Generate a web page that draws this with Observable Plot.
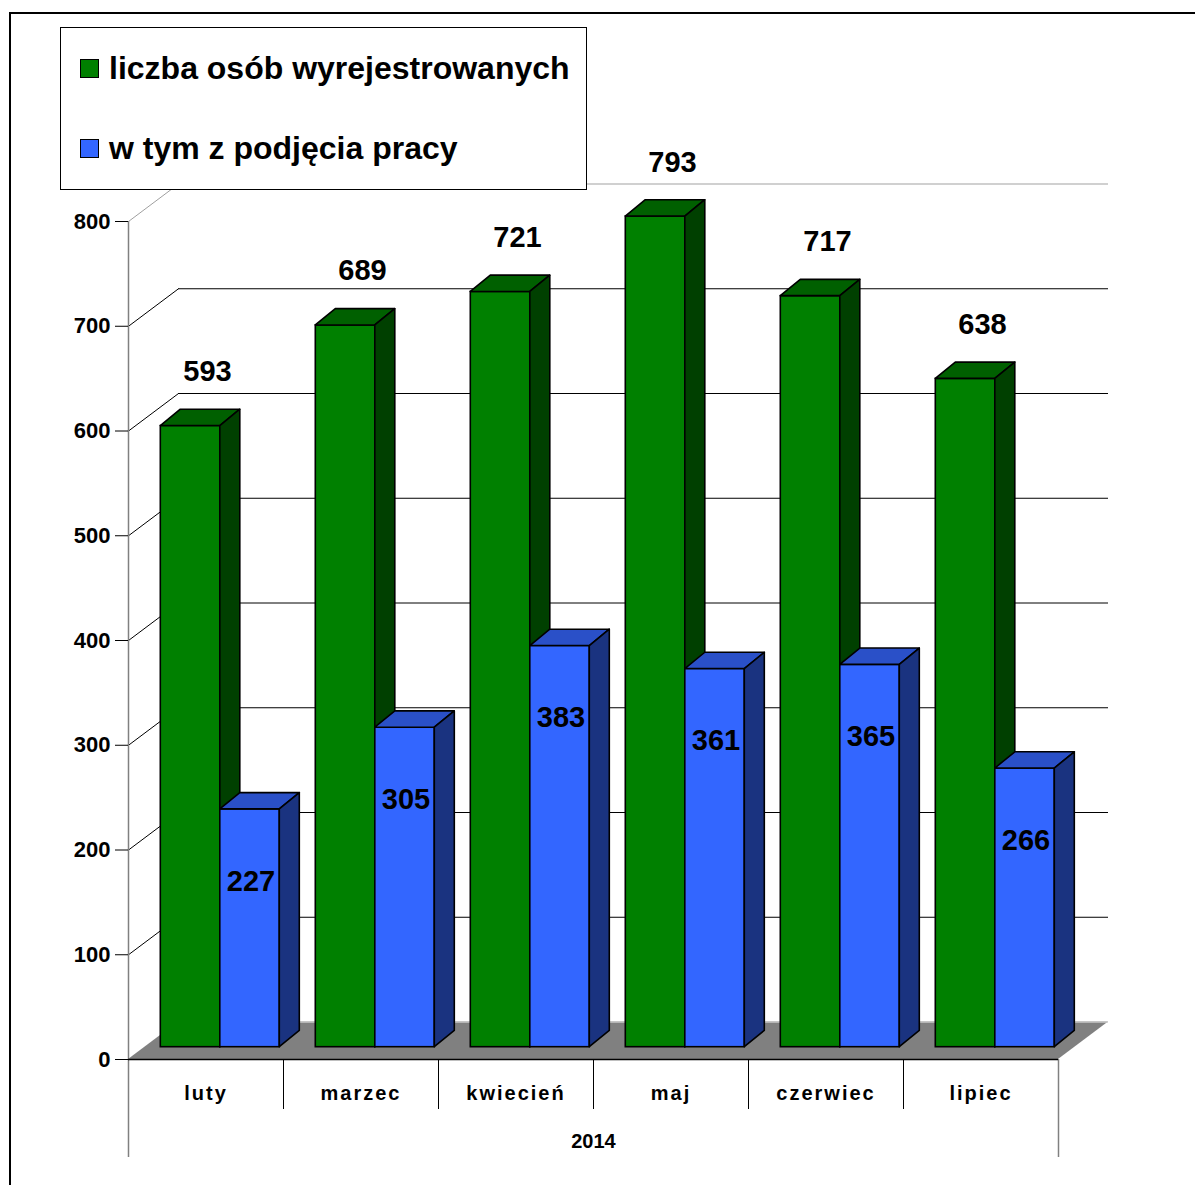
<!DOCTYPE html>
<html><head><meta charset="utf-8">
<script src="https://cdn.jsdelivr.net/npm/d3@7"></script>
<script src="https://cdn.jsdelivr.net/npm/@observablehq/plot@0.6"></script>
<style>
html,body{margin:0;padding:0;background:#fff;}
#wrap{position:relative;width:1195px;height:1185px;overflow:hidden;font-family:"Liberation Sans",Arial,sans-serif;}
#chart{position:absolute;left:0;top:0;}
#frame{position:absolute;left:9px;top:12px;right:-5px;bottom:-5px;border-top:2px solid #000;border-left:2px solid #000;pointer-events:none;}
#legend{position:absolute;left:60px;top:27px;width:525px;height:161px;border:1px solid #000;background:#fff;}
.item{position:absolute;left:19px;height:36px;line-height:36px;display:flex;align-items:center;font-weight:bold;font-size:32px;color:#000;white-space:nowrap;}
.sw{width:17px;height:17px;border:1px solid #000;margin-right:10px;flex:none;}
g[aria-label="x-axis tick label"] text{letter-spacing:2px;}
</style></head>
<body>
<div id="wrap"><div id="chart"></div><div id="legend"></div><div id="frame"></div></div>
<script>
// ---- data ----
const months = ["luty", "marzec", "kwiecień", "maj", "czerwiec", "lipiec"];
const registered = [593, 689, 721, 793, 717, 638];
const employed = [227, 305, 383, 361, 365, 266];
const yTicks = [0, 100, 200, 300, 400, 500, 600, 700, 800];
const yearLabel = "2014";
const seriesNames = ["liczba osób wyrejestrowanych", "w tym z podjęcia pracy"];
const frontColors = ["#008000", "#3366FF"];
const topColors = ["#006000", "#2A50C8"];
const sideColors = ["#004000", "#1A3380"];

// ---- layout ----
const W = 1195, H = 1185, mL = 128, mR = 137, mT = 221, mB = 126;
const kx = (W - mL - mR) / months.length;
const ky = (H - mT - mB) / yTicks[yTicks.length - 1];
const ux = p => p / kx, uy = p => p / ky;
const wallX = ux(50), wallY = uy(37.5);
const barOff = ux(15.8), barW = ux(59.5);
const depthX = ux(20), depthY = uy(16.3);
const frontDX = 16.5, frontDY = -12.3;
const nCat = months.length;

const series = [registered, employed].map((values, s) => ({
  s, values,
  bars: values.map((v, i) => {
    const x0 = i + barOff + s * barW;
    return {id: `${s}-${i}`, i, v, x0, x1: x0 + barW};
  })
}));

const marks = [];
// floor
marks.push(Plot.areaX([{y: 0, a: 0, b: nCat}, {y: wallY, a: wallX, b: nCat + wallX}],
  {y: "y", x1: "a", x2: "b", fill: "#808080"}));
// back-wall grid lines
marks.push(Plot.ruleY([0], {y: d => d + wallY, x1: wallX, x2: nCat + wallX, stroke: "#c8c8c8", strokeWidth: 1.5}));
marks.push(Plot.ruleY(yTicks.slice(1, -1), {y: d => d + wallY, x1: wallX, x2: nCat + wallX, stroke: "#000"}));
marks.push(Plot.ruleY(yTicks.slice(-1), {y: d => d + wallY, x1: wallX, x2: nCat + wallX, stroke: "#c0c0c0", strokeWidth: 1.5}));
// side-wall diagonals
marks.push(Plot.link(yTicks.slice(1, -1), {x1: 0, y1: d => d, x2: wallX, y2: d => d + wallY, stroke: "#000"}));
marks.push(Plot.link(yTicks.slice(-1), {x1: 0, y1: d => d, x2: wallX, y2: d => d + wallY, stroke: "#a0a0a0"}));
// axis lines
marks.push(Plot.ruleX([0], {y1: yTicks[yTicks.length - 1], y2: -uy(98), stroke: "#808080", strokeWidth: 1.5}));
marks.push(Plot.ruleX([nCat], {y1: 0, y2: -uy(98), stroke: "#808080", strokeWidth: 1.5}));
marks.push(Plot.ruleX(d3.range(1, nCat), {y1: 0, y2: -uy(50), stroke: "#000"}));
marks.push(Plot.ruleY([0], {x1: 0, x2: nCat, stroke: "#000", strokeWidth: 1.5}));
marks.push(Plot.axisY(yTicks, {anchor: "left", tickSize: 13, tickPadding: 5, fontSize: 22, fontWeight: "bold", label: null, stroke: "#000"}));
marks.push(Plot.axisX(months.map((_, i) => i + 0.5), {anchor: "bottom", tickSize: 0, tickPadding: 26, fontSize: 20, fontWeight: "bold", label: null, tickFormat: d => months[Math.floor(d)]}));
marks.push(Plot.text([yearLabel], {x: nCat / 2, y: 0, text: d => d, dy: 82, fontSize: 20, fontWeight: "bold"}));

// bars
for (const {s, bars} of series) {
  marks.push(Plot.rect(bars, {x1: "x0", x2: "x1", y1: 0, y2: "v", fill: frontColors[s], stroke: "#000", strokeWidth: 1.6, dx: frontDX, dy: frontDY}));
  const tops = bars.flatMap(b => [{id: b.id, y: b.v, a: b.x0, b: b.x1}, {id: b.id, y: b.v + depthY, a: b.x0 + depthX, b: b.x1 + depthX}]);
  marks.push(Plot.areaX(tops, {y: "y", x1: "a", x2: "b", z: "id", fill: topColors[s], stroke: "#000", strokeWidth: 1.6, dx: frontDX, dy: frontDY}));
  const sides = bars.flatMap(b => [{id: b.id, x: b.x1, a: 0, b: b.v}, {id: b.id, x: b.x1 + depthX, a: depthY, b: b.v + depthY}]);
  marks.push(Plot.areaY(sides, {x: "x", y1: "a", y2: "b", z: "id", fill: sideColors[s], stroke: "#000", strokeWidth: 1.6, dx: frontDX, dy: frontDY}));
}
// value labels
marks.push(Plot.text(series[0].bars, {x: d => (d.x0 + d.x1) / 2 + depthX, y: d => d.v + depthY, text: d => String(d.v), dx: frontDX - 3, dy: frontDY - 38, fontSize: 29, fontWeight: "bold", fill: "#000"}));
marks.push(Plot.text(series[1].bars, {x: d => (d.x0 + d.x1) / 2, y: d => d.v, text: d => String(d.v), dx: frontDX + 1, dy: frontDY + 72, fontSize: 29, fontWeight: "bold", fill: "#000"}));

const chart = Plot.plot({
  width: W, height: H,
  marginLeft: mL, marginRight: mR, marginTop: mT, marginBottom: mB,
  x: {type: "linear", domain: [0, nCat], axis: null},
  y: {type: "linear", domain: [0, yTicks[yTicks.length - 1]], axis: null},
  style: {fontFamily: "'Liberation Sans', Arial, sans-serif", background: "transparent", color: "#000"},
  marks
});
document.getElementById("chart").appendChild(chart);

// legend
const legend = document.getElementById("legend");
const legendTops = [22, 102];
seriesNames.forEach((name, s) => {
  const item = document.createElement("div");
  item.className = "item";
  item.style.top = legendTops[s] + "px";
  const sw = document.createElement("span");
  sw.className = "sw";
  sw.style.background = frontColors[s];
  const t = document.createElement("span");
  t.textContent = name;
  item.append(sw, t);
  legend.appendChild(item);
});
</script>
</body></html>
